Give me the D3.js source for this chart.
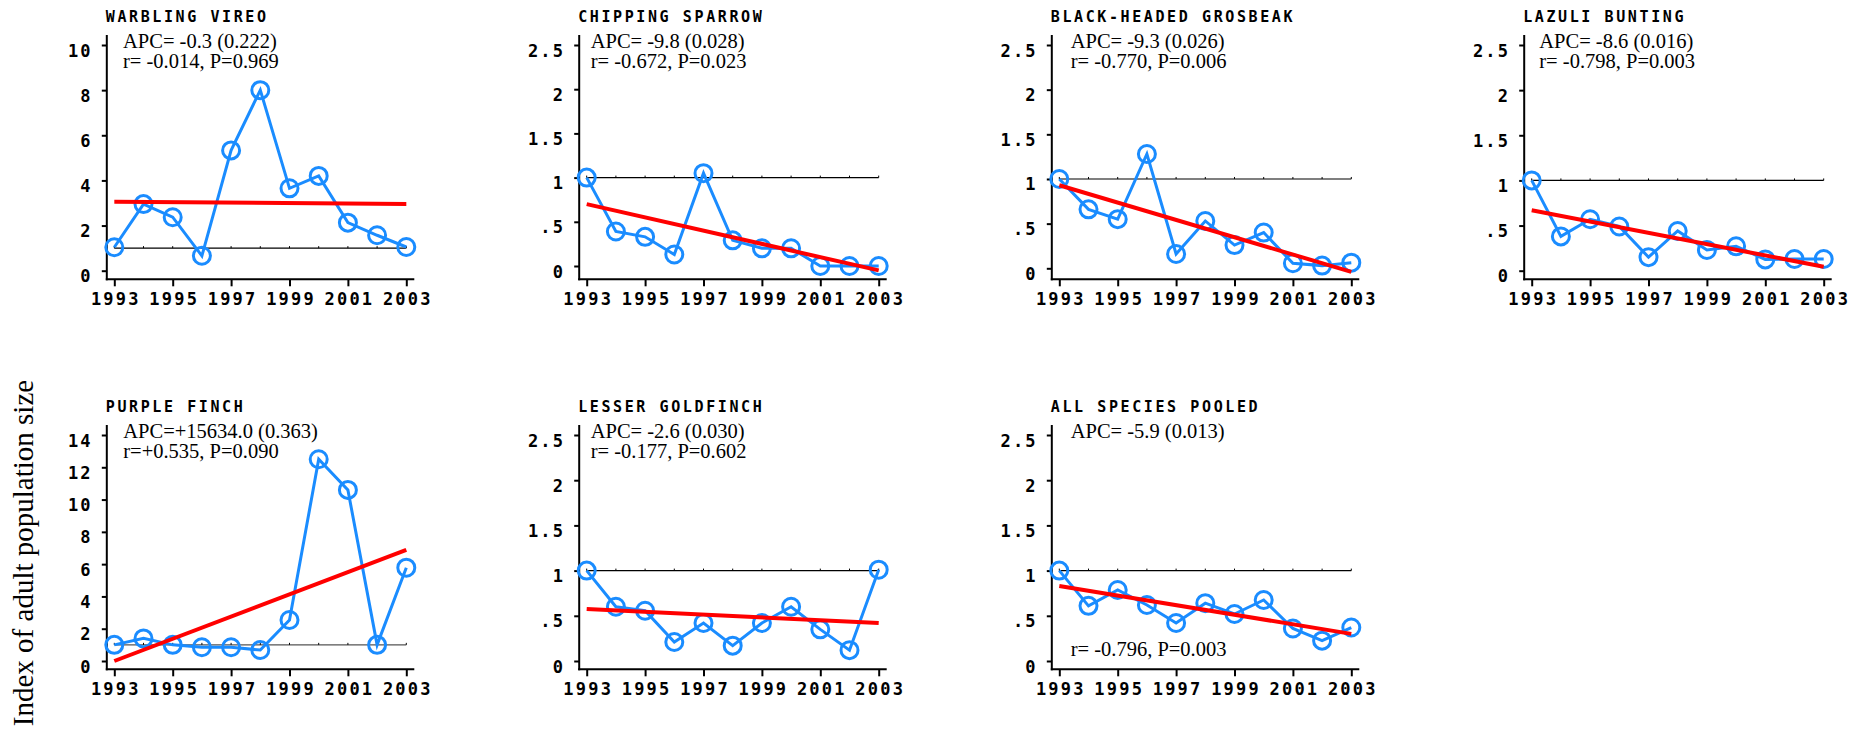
<!DOCTYPE html>
<html>
<head>
<meta charset="utf-8">
<script src="https://cdn.jsdelivr.net/npm/d3@7"></script>
<style>
  html, body { margin: 0; padding: 0; background: #fff; }
  svg { display: block; }
  .pix { font-family: "DejaVu Sans Mono", monospace; font-weight: bold; }
  .serif { font-family: "Liberation Serif", "Times New Roman", serif; }
</style>
</head>
<body>
<svg id="chart" width="1867" height="733"></svg>
<script>
// ---------------- data ----------------
const years = [1993, 1994, 1995, 1996, 1997, 1998, 1999, 2000, 2001, 2002, 2003];
const xTickYears = [1993, 1995, 1997, 1999, 2001, 2003];

const species = ["WARBLING VIREO", "CHIPPING SPARROW", "BLACK-HEADED GROSBEAK", "LAZULI BUNTING",
                 "PURPLE FINCH", "LESSER GOLDFINCH", "ALL SPECIES POOLED"];

const warblingVireo     = [1.04, 2.95, 2.37, 0.66, 5.33, 8.0, 3.65, 4.2, 2.13, 1.57, 1.05];
const chippingSparrow   = [1.0, 0.39, 0.33, 0.13, 1.05, 0.29, 0.2, 0.2, 0.0, 0.0, 0.0];
const blackHeadedGrosbeak = [1.0, 0.66, 0.55, 1.28, 0.16, 0.53, 0.26, 0.40, 0.056, 0.03, 0.063];
const lazuliBunting     = [1.0, 0.38, 0.57, 0.49, 0.15, 0.44, 0.23, 0.27, 0.125, 0.13, 0.13];
const purpleFinch       = [1.0, 1.4, 1.0, 0.85, 0.85, 0.68, 2.54, 12.5, 10.6, 1.0, 5.78];
const lesserGoldfinch   = [1.0, 0.6, 0.556, 0.21, 0.42, 0.17, 0.42, 0.6, 0.35, 0.12, 1.01];
const allSpeciesPooled  = [1.0, 0.61, 0.785, 0.62, 0.42, 0.64, 0.52, 0.675, 0.36, 0.225, 0.37];
const seriesValues = [warblingVireo, chippingSparrow, blackHeadedGrosbeak, lazuliBunting,
                      purpleFinch, lesserGoldfinch, allSpeciesPooled];

// fitted trend values at 1993 and 2003
const trendStart = [3.06, 0.70, 0.93, 0.67, 0.0, 0.575, 0.83];
const trendEnd   = [2.96, -0.05, -0.04, 0.044, 6.88, 0.42, 0.30];

const apcLabels = ["APC= -0.3 (0.222)", "APC= -9.8 (0.028)", "APC= -9.3 (0.026)", "APC= -8.6 (0.016)",
                   "APC=+15634.0 (0.363)", "APC= -2.6 (0.030)", "APC= -5.9 (0.013)"];
const rpLabels  = ["r= -0.014, P=0.969", "r= -0.672, P=0.023", "r= -0.770, P=0.006", "r= -0.798, P=0.003",
                   "r=+0.535, P=0.090", "r= -0.177, P=0.602", "r= -0.796, P=0.003"];

const yTicksFine  = [0, 0.5, 1, 1.5, 2, 2.5];
const yTicksVireo = [0, 2, 4, 6, 8, 10];
const yTicksFinch = [0, 2, 4, 6, 8, 10, 12, 14];
const yTickSets = [yTicksVireo, yTicksFine, yTicksFine, yTicksFine, yTicksFinch, yTicksFine, yTicksFine];

const yAxisTitle = "Index of adult population size";

// ---------------- layout ----------------
const colX = [114.3, 586.7, 1059.3, 1531.7];   // pixel of 1993 in each column
const rowY = [0, 390];
const plotW = 292;
const zeroPx = [270.7, 266, 268.3, 270.7, 271, 271, 271]; // row-relative pixel of value 0
const topTickPx = 45;
const noteDx = [8.7, 4, 11.4, 7.6, 9, 4, 11.4];
const blue = "#1a8cff", red = "#ff0000";

const svg = d3.select("#chart");
svg.append("rect").attr("width", 1867).attr("height", 733).attr("fill", "#fff");

species.forEach((name, i) => {
  const col = i % 4, row = Math.floor(i / 4);
  const oy = rowY[row];
  const ticks = yTickSets[i];
  const yTop = ticks[ticks.length - 1];
  const x = d3.scaleLinear().domain([1993, 2003]).range([colX[col], colX[col] + plotW]);
  const y = d3.scaleLinear().domain([0, yTop]).range([oy + zeroPx[i], oy + topTickPx]);
  const axisX = colX[col] - 7.5;
  const axisBottomY = oy + 279.3;

  const g = svg.append("g");

  // title
  g.append("text").attr("class", "pix")
    .attr("x", axisX - 1).attr("y", oy + 21.7)
    .attr("font-size", 15).attr("letter-spacing", 2.6)
    .text(name);

  // axis lines
  g.append("line").attr("x1", axisX).attr("x2", axisX)
    .attr("y1", oy + 35).attr("y2", axisBottomY + 1)
    .attr("stroke", "#000").attr("stroke-width", 2);
  g.append("line").attr("x1", axisX - 1).attr("x2", colX[col] + plotW + 8)
    .attr("y1", axisBottomY).attr("y2", axisBottomY)
    .attr("stroke", "#000").attr("stroke-width", 2);

  // y axis
  const fmt = d => (d === 0.5 ? ".5" : String(d));
  const ya = g.append("g").attr("transform", `translate(${axisX},0)`)
    .call(d3.axisLeft(y).tickValues(ticks).tickSize(5).tickFormat(fmt));
  ya.select(".domain").remove();
  ya.selectAll(".tick line").attr("stroke", "#000").attr("stroke-width", 2);
  ya.selectAll(".tick text").attr("class", "pix")
    .attr("font-size", 17).attr("letter-spacing", 2.2)
    .attr("fill", "#000").attr("x", -14).attr("dy", null).attr("y", 11)
    .attr("font-family", null);

  // x axis
  const xa = g.append("g").attr("transform", `translate(0,${axisBottomY})`)
    .call(d3.axisBottom(x).tickValues(xTickYears).tickSize(7).tickFormat(d3.format("d")));
  xa.select(".domain").remove();
  xa.selectAll(".tick line").attr("stroke", "#000").attr("stroke-width", 2);
  xa.selectAll(".tick text").attr("class", "pix")
    .attr("font-size", 17).attr("letter-spacing", 2.2)
    .attr("fill", "#000").attr("dy", null).attr("y", 26).attr("x", 1)
    .attr("font-family", null);

  // reference line at 1
  g.append("line").attr("x1", x(1993)).attr("x2", x(2003))
    .attr("y1", y(1)).attr("y2", y(1))
    .attr("stroke", row === 1 && col === 0 ? "#555" : "#000").attr("stroke-width", 1.2);
  g.selectAll(".reftick").data(years).enter().append("line")
    .attr("x1", d => x(d)).attr("x2", d => x(d))
    .attr("y1", y(1) - 2).attr("y2", y(1))
    .attr("stroke", "#000").attr("stroke-width", 1);

  // data line
  const pts = years.map((yr, k) => [yr, seriesValues[i][k]]);
  g.append("path").datum(pts)
    .attr("d", d3.line().x(d => x(d[0])).y(d => y(d[1])))
    .attr("fill", "none").attr("stroke", blue).attr("stroke-width", 3)
    .attr("stroke-linejoin", "miter");
  g.selectAll(".pt").data(pts).enter().append("circle")
    .attr("cx", d => x(d[0])).attr("cy", d => y(d[1])).attr("r", 8.5)
    .attr("fill", "none").attr("stroke", blue).attr("stroke-width", 3);

  // trend line
  g.append("path").datum([[1993, trendStart[i]], [2003, trendEnd[i]]])
    .attr("d", d3.line().x(d => x(d[0])).y(d => y(d[1])))
    .attr("fill", "none").attr("stroke", red).attr("stroke-width", 4);

  // annotations
  const nx = colX[col] + noteDx[i];
  g.append("text").attr("class", "serif").attr("font-size", 20.5)
    .attr("x", nx).attr("y", oy + 47.7).text(apcLabels[i]);
  g.append("text").attr("class", "serif").attr("font-size", 20.5)
    .attr("x", nx).attr("y", oy + (i === 6 ? 266 : 67.7)).text(rpLabels[i]);
});

// shared y-axis title
svg.append("text").attr("class", "serif")
  .attr("font-size", 29)
  .attr("text-anchor", "middle")
  .attr("transform", "translate(33,553) rotate(-90)")
  .text(yAxisTitle);
</script>
</body>
</html>
